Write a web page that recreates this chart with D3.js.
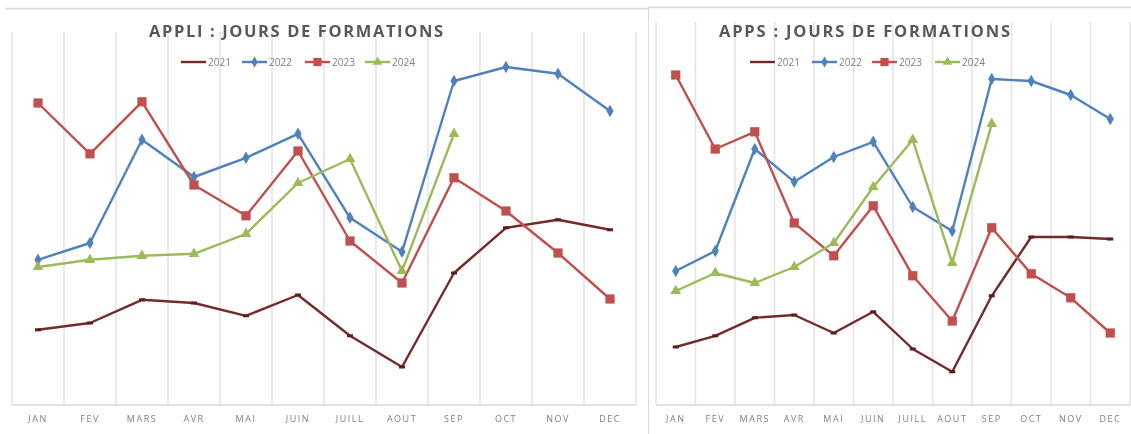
<!DOCTYPE html>
<html>
<head>
<meta charset="utf-8">
<title>Jours de formations</title>
<style>
  body { margin: 0; background: #fff; }
  svg { display: block; will-change: transform; }
  .title { font-family: "Open Sans", sans-serif; font-weight: bold; fill: #595959; }
  .mois { font-family: "Open Sans", sans-serif; font-size: 9px; fill: #7f7f7f; letter-spacing: 1.5px; }
  .leg { font-family: "Open Sans", sans-serif; font-size: 10px; fill: #7f7f7f; }
</style>
</head>
<body>
<svg id="viz"></svg>
<script src="https://d3js.org/d3.v7.min.js"></script>
<script>
var width = 1131, height = 434;

// mois (axe des categories)
var mois = ["JAN", "FEV", "MARS", "AVR", "MAI", "JUIN", "JUILL", "AOUT", "SEP", "OCT", "NOV", "DEC"];
var annees = ["2021", "2022", "2023", "2024"];

// APPLI : jours de formations (echelle relative)
var appli2021 = [18.8, 20.5, 26.3, 25.5, 22.3, 27.5, 17.3, 9.5, 33, 44.3, 46.3, 43.8];
var appli2022 = [36.3, 40.5, 66.3, 57, 61.8, 67.8, 46.8, 38.3, 81, 84.5, 82.8, 73.5];
var appli2023 = [75.5, 62.8, 75.8, 55, 47.3, 63.5, 41, 30.5, 56.8, 48.5, 38, 26.5];
var appli2024 = [34.5, 36.3, 37.3, 37.8, 42.8, 55.5, 61.5, 33.5, 67.8, null, null, null];

// APPS : jours de formations
var apps2021 = [14.5, 17.3, 21.8, 22.5, 18, 23.3, 14, 8.3, 27.3, 42, 42, 41.5];
var apps2022 = [33.5, 38.5, 64, 55.8, 62, 65.8, 49.5, 43.5, 81.5, 81, 77.5, 71.5];
var apps2023 = [82.5, 64, 68.3, 45.5, 37.3, 49.8, 32.3, 21, 44.3, 32.8, 26.8, 18];
var apps2024 = [28.5, 33, 30.5, 34.5, 40.5, 54.5, 66.3, 35.5, 70.3, null, null, null];

var couleurs = {"2021": "#742a28", "2022": "#4f81bd", "2023": "#c0504d", "2024": "#9bbb59"};
var symboles = {"2021": null, "2022": d3.symbolDiamond, "2023": d3.symbolSquare, "2024": d3.symbolTriangle};
var tailles = {"2022": 45, "2023": 85, "2024": 50};

var svg = d3.select("#viz").attr("width", width).attr("height", height);

// cadres
svg.append("line").attr("x1", 5).attr("x2", 648).attr("y1", 8.5).attr("y2", 8.5)
  .attr("stroke", "#d9d9d9").attr("stroke-width", 1.5);
svg.append("line").attr("x1", 648).attr("x2", 1131).attr("y1", 7.5).attr("y2", 7.5)
  .attr("stroke", "#d9d9d9").attr("stroke-width", 1.5);
svg.append("line").attr("x1", 648.5).attr("x2", 648.5).attr("y1", 7).attr("y2", 434)
  .attr("stroke", "#d9d9d9").attr("stroke-width", 1);

function graphique(cfg) {
  var g = svg.append("g");

  var x = d3.scaleBand().domain(mois).range([cfg.x0, cfg.x1]).padding(0);
  var y = d3.scaleLinear().domain([0, 90]).range([405, 45]);

  // quadrillage vertical
  var bords = mois.map(function(m) { return x(m); }).concat([cfg.x1]);
  g.append("g").selectAll("line").data(bords).enter().append("line")
    .attr("x1", function(d) { return d; }).attr("x2", function(d) { return d; })
    .attr("y1", cfg.gridTop).attr("y2", 405)
    .attr("stroke", "#e3e3e3").attr("stroke-width", 1.5);
  g.append("line").attr("x1", cfg.x0).attr("x2", cfg.x1).attr("y1", 405).attr("y2", 405)
    .attr("stroke", "#d9d9d9").attr("stroke-width", 1.5);

  // etiquettes des mois
  g.append("g").selectAll("text").data(mois).enter().append("text")
    .attr("class", "mois")
    .attr("x", function(d) { return x(d) + x.bandwidth() / 2; })
    .attr("y", 422)
    .attr("text-anchor", "middle")
    .text(function(d) { return d; });

  // titre
  g.append("text").attr("class", "title")
    .attr("x", cfg.titleX).attr("y", 37)
    .attr("font-size", 16.5)
    .attr("textLength", cfg.titleW).attr("lengthAdjust", "spacing")
    .text(cfg.titre);

  // courbes
  var ligne = d3.line()
    .defined(function(d) { return d != null; })
    .x(function(d, i) { return x(mois[i]) + x.bandwidth() / 2; })
    .y(function(d) { return y(d); });

  annees.forEach(function(a) {
    var vals = cfg.series[a];
    g.append("path").datum(vals)
      .attr("fill", "none")
      .attr("stroke", couleurs[a])
      .attr("stroke-width", 2.4)
      .attr("stroke-linejoin", "round")
      .attr("d", ligne);

    var pts = vals.map(function(v, i) { return {v: v, m: mois[i]}; })
      .filter(function(d) { return d.v != null; });

    if (symboles[a]) {
      g.append("g").selectAll("path").data(pts).enter().append("path")
        .attr("d", d3.symbol().type(symboles[a]).size(tailles[a]))
        .attr("transform", function(d) {
          return "translate(" + (x(d.m) + x.bandwidth() / 2) + "," + y(d.v) + ")";
        })
        .attr("fill", couleurs[a]);
    } else {
      g.append("g").selectAll("rect").data(pts).enter().append("rect")
        .attr("x", function(d) { return x(d.m) + x.bandwidth() / 2 - 3; })
        .attr("y", function(d) { return y(d.v) - 1.5; })
        .attr("width", 6).attr("height", 3)
        .attr("fill", "#5a1e1c");
    }
  });

  // legende
  var leg = g.append("g");
  annees.forEach(function(a, i) {
    var lx = cfg.legX[i];
    leg.append("line").attr("x1", lx).attr("x2", lx + 25).attr("y1", 62).attr("y2", 62)
      .attr("stroke", couleurs[a]).attr("stroke-width", 2.4);
    if (symboles[a]) {
      leg.append("path")
        .attr("d", d3.symbol().type(symboles[a]).size(tailles[a] * 0.8))
        .attr("transform", "translate(" + (lx + 12.5) + ",62)")
        .attr("fill", couleurs[a]);
    }
    leg.append("text").attr("class", "leg")
      .attr("x", lx + 27).attr("y", 65.5)
      .text(a);
  });
}

graphique({
  titre: "APPLI : JOURS DE FORMATIONS",
  x0: 12, x1: 636, gridTop: 32,
  titleX: 149, titleW: 294,
  legX: [181, 242, 305, 365],
  series: {"2021": appli2021, "2022": appli2022, "2023": appli2023, "2024": appli2024}
});

graphique({
  titre: "APPS : JOURS DE FORMATIONS",
  x0: 656, x1: 1130, gridTop: 22,
  titleX: 719, titleW: 291,
  legX: [750, 812, 872, 935],
  series: {"2021": apps2021, "2022": apps2022, "2023": apps2023, "2024": apps2024}
});
</script>
</body>
</html>
